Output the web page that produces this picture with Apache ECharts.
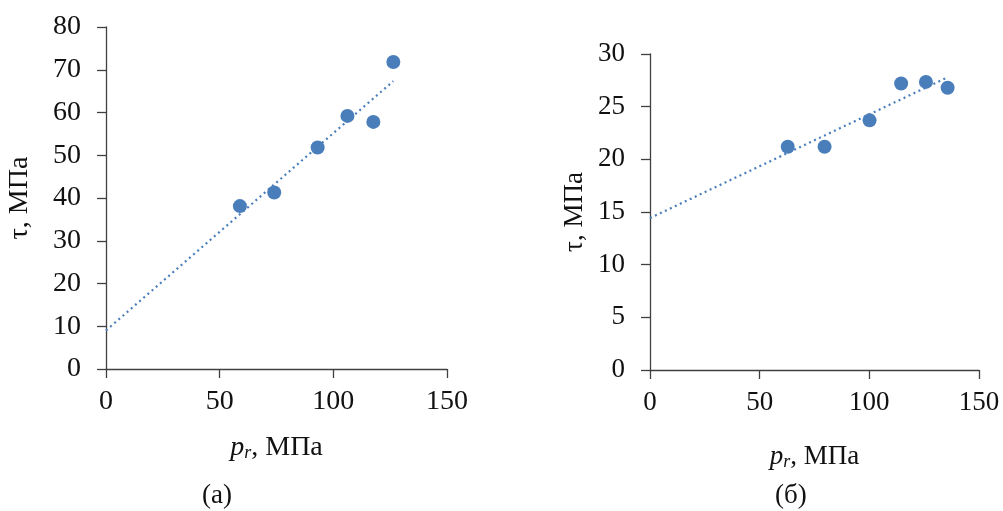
<!DOCTYPE html>
<html>
<head>
<meta charset="utf-8">
<script src="https://cdn.jsdelivr.net/npm/echarts@6/dist/echarts.min.js"></script>
<style>
  html, body { margin: 0; padding: 0; background: #fff; }
  #chart { width: 1003px; height: 511px; }
</style>
</head>
<body>
<div id="chart"></div>
<script>
// (a) measured points
const pressureA = [58.9, 74.0, 93.1, 106.2, 117.6, 126.4];
const shearA = [38.1, 41.3, 51.8, 59.2, 57.8, 71.8];
// (б) measured points
const pressureB = [62.8, 79.6, 100.1, 114.5, 125.8, 135.7];
const shearB = [21.2, 21.2, 23.7, 27.2, 27.35, 26.8];

const yMaxA = 80, yStepA = 10;
const yMaxB = 30, yStepB = 5;

const FONT = "'Liberation Serif', 'DejaVu Serif', serif";
const BLUE = "#4a7ebb";

// linear least squares trend, drawn from x=0 to the last point (like Excel)
function trend(xs, ys) {
  const n = xs.length;
  const mx = xs.reduce((a, b) => a + b, 0) / n;
  const my = ys.reduce((a, b) => a + b, 0) / n;
  let sxy = 0, sxx = 0;
  xs.forEach((x, i) => {
    sxy += (x - mx) * (ys[i] - my);
    sxx += (x - mx) * (x - mx);
  });
  const k = sxy / sxx;
  const b = my - k * mx;
  const xEnd = Math.max(...xs);
  return [[0, b], [xEnd, b + k * xEnd]];
}

const pts = (xs, ys) => xs.map((x, i) => [x, ys[i]]);

const axisLine = { lineStyle: { color: "#404040", width: 1.3 } };
const axisTick = { show: true, length: 9, lineStyle: { color: "#404040", width: 1.3 } };
const tickLabel = (fs) => ({ color: "#111", fontFamily: FONT, fontSize: fs });

function xName(fs) {
  return {
    name: "{i|p}{s|r}{n|, МПа}",
    nameLocation: "middle",
    nameTextStyle: {
      rich: {
        i: { fontFamily: FONT, fontSize: fs, fontStyle: "italic", color: "#111" },
        s: { fontFamily: FONT, fontSize: Math.round(fs * 0.65), fontStyle: "italic", color: "#111", verticalAlign: "bottom", padding: [11, 0, 0, 0] },
        n: { fontFamily: FONT, fontSize: fs, color: "#111" }
      }
    }
  };
}

function xAxis(idx, gap, fs) {
  return Object.assign({
    type: "value", gridIndex: idx, min: 0, max: 150, interval: 50,
    nameGap: gap,
    axisLine, axisTick, splitLine: { show: false },
    axisLabel: Object.assign({ margin: 19 }, tickLabel(fs))
  }, xName(fs));
}

function yAxis(idx, max, step, gap, fs) {
  return {
    type: "value", gridIndex: idx, min: 0, max: max, interval: step,
    name: "τ, МПа", nameLocation: "middle", nameGap: gap,
    nameTextStyle: { fontFamily: FONT, fontSize: fs, color: "#111" },
    axisLine: Object.assign({ show: true }, axisLine),
    axisTick, splitLine: { show: false },
    axisLabel: Object.assign({ margin: 25 }, tickLabel(fs))
  };
}

const capStyle = { fontFamily: FONT, fontSize: 27, fontWeight: "normal", color: "#111" };

const chart = echarts.init(document.getElementById("chart"));
chart.setOption({
  animation: false,
  backgroundColor: "#fff",
  grid: [
    { left: 106, right: 556, top: 27, bottom: 142 },
    { left: 650, right: 24, top: 54, bottom: 141 }
  ],
  xAxis: [xAxis(0, 64, 28), xAxis(1, 72, 27)],
  yAxis: [yAxis(0, yMaxA, yStepA, 72, 28), yAxis(1, yMaxB, yStepB, 62, 27)],
  title: [
    { text: "(a)", left: 197, top: 477, textStyle: capStyle },
    { text: "(б)", left: 770, top: 477, textStyle: capStyle }
  ],
  series: [
    {
      type: "line", xAxisIndex: 0, yAxisIndex: 0, data: trend(pressureA, shearA),
      showSymbol: false, lineStyle: { color: BLUE, width: 2.2, type: [2, 3.5] }, z: 1
    },
    {
      type: "scatter", xAxisIndex: 0, yAxisIndex: 0, data: pts(pressureA, shearA),
      symbolSize: 14, itemStyle: { color: BLUE, opacity: 1 }, z: 2
    },
    {
      type: "line", xAxisIndex: 1, yAxisIndex: 1, data: trend(pressureB, shearB),
      showSymbol: false, lineStyle: { color: BLUE, width: 2.2, type: [2, 3.5] }, z: 1
    },
    {
      type: "scatter", xAxisIndex: 1, yAxisIndex: 1, data: pts(pressureB, shearB),
      symbolSize: 14, itemStyle: { color: BLUE, opacity: 1 }, z: 2
    }
  ]
});
</script>
</body>
</html>
